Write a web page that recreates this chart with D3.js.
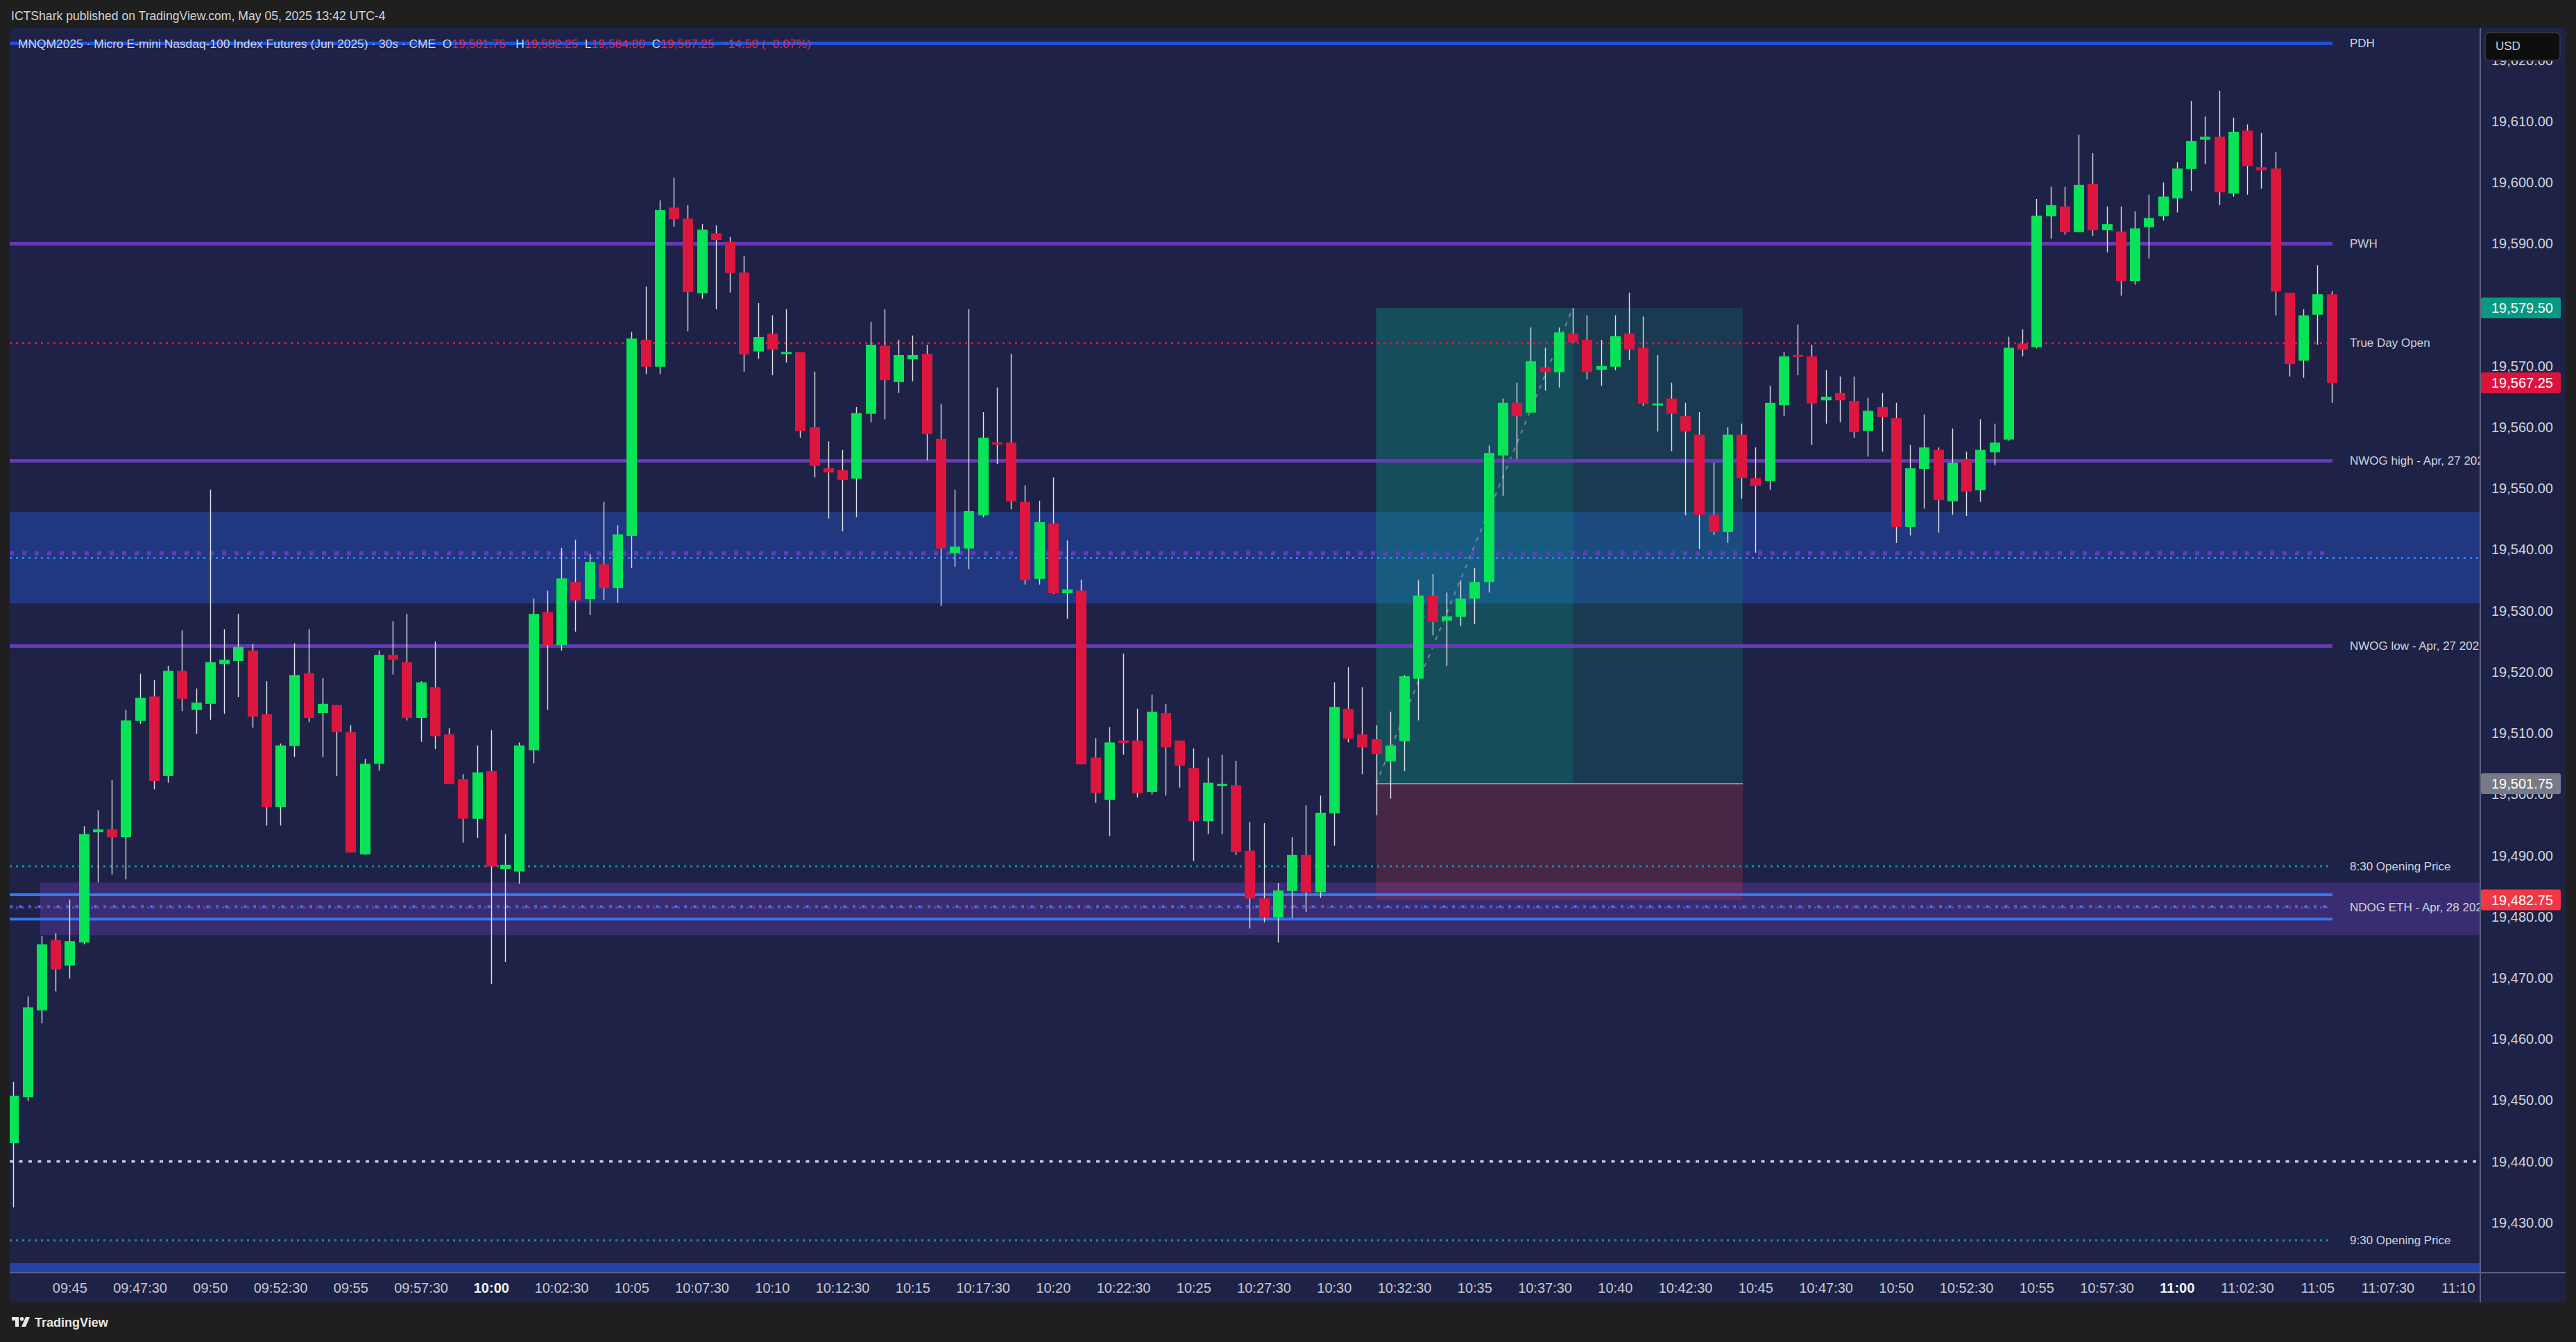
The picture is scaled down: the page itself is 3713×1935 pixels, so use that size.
<!DOCTYPE html>
<html><head><meta charset="utf-8">
<script src="https://cdn.jsdelivr.net/npm/d3@7"></script>
<style>
html,body{margin:0;padding:0;background:#1f1f1f;overflow:hidden;}
svg{display:block;font-family:"Liberation Sans",Arial,sans-serif;}
text{white-space:pre;}
</style></head><body>
<svg id="chart" width="3713" height="1935"></svg>
<script>
// ---------------- DATA ----------------
const symbolTitle = "MNQM2025 · Micro E-mini Nasdaq-100 Index Futures (Jun 2025) · 30s · CME";
const headerText = "ICTShark published on TradingView.com, May 05, 2025 13:42 UTC-4";
const firstBarTime = "09:43:00";
const barSeconds = 30;

const open = [19443.0,19450.5,19464.7,19476.2,19472.0,19475.8,19493.8,19494.3,19493.0,19512.0,
19516.0,19503.0,19520.2,19513.8,19514.8,19521.3,19521.8,19523.5,19513.1,19497.9,
19507.9,19519.8,19513.3,19514.6,19510.2,19490.2,19505.0,19522.8,19521.6,19512.5,
19517.5,19509.8,19502.5,19496.0,19503.8,19487.8,19487.4,19507.2,19529.8,19524.4,
19534.7,19531.9,19537.6,19533.7,19542.2,19574.3,19569.9,19595.9,19594.1,19581.9,
19591.7,19590.3,19585.3,19572.4,19575.3,19572.0,19572.25,19560.0,19553.3,19553.0,
19551.6,19562.2,19573.3,19567.4,19571.1,19572.0,19558.1,19539.4,19540.2,19545.6,
19557.5,19557.5,19547.8,19535.2,19544.3,19532.9,19533.3,19506.0,19499.1,19508.8,
19508.8,19500.4,19513.3,19508.8,19504.3,19495.6,19501.4,19501.5,19490.8,19483.0,
19479.9,19484.2,19490.1,19484.0,19496.9,19514.0,19509.8,19509.0,19505.4,19508.7,
19518.9,19532.5,19528.4,19529.0,19532.0,19534.7,19555.4,19564.0,19562.4,19569.8,
19569.0,19575.3,19574.3,19569.4,19569.9,19575.3,19573.0,19563.7,19564.7,19561.8,
19558.8,19545.7,19542.9,19558.8,19551.7,19551.2,19563.6,19571.8,19571.6,19564.4,
19565.6,19564.3,19559.4,19563.3,19561.5,19543.7,19553.2,19556.3,19547.9,19554.8,
19549.7,19555.9,19558.0,19573.7,19573.1,19594.5,19596.1,19591.9,19599.8,19592.2,
19592.0,19583.9,19592.7,19594.5,19597.4,19602.2,19607.0,19607.5,19598.2,19608.5,
19602.5,19602.3,19582.0,19570.9,19578.4,19581.75];

const high = [19453.0,19467.0,19476.8,19477.3,19482.8,19494.8,19497.4,19502.3,19513.8,19519.7,
19518.7,19521.0,19526.8,19517.3,19549.8,19527.0,19529.5,19524.6,19518.5,19508.3,
19524.7,19527.0,19519.0,19514.6,19511.3,19505.8,19523.5,19528.3,19529.5,19518.5,
19525.0,19510.8,19503.3,19508.0,19510.5,19493.5,19508.5,19532.0,19533.3,19540.3,
19541.6,19539.3,19547.8,19544.0,19575.6,19583.0,19597.1,19600.8,19596.3,19593.2,
19593.0,19591.1,19588.0,19580.3,19578.3,19579.3,19572.25,19569.1,19557.7,19556.3,
19563.3,19577.2,19579.3,19574.3,19575.0,19573.5,19563.8,19549.8,19579.3,19562.5,
19566.5,19572.0,19550.5,19548.0,19551.8,19541.5,19535.1,19509.2,19511.0,19523.0,
19514.0,19516.3,19514.8,19508.8,19507.5,19506.0,19506.5,19505.5,19495.5,19495.3,
19485.5,19493.0,19498.2,19499.8,19518.3,19520.8,19517.5,19511.3,19513.5,19519.5,
19535.0,19536.0,19533.0,19535.0,19537.0,19557.0,19564.7,19567.3,19576.3,19573.0,
19576.3,19579.5,19578.3,19574.3,19578.3,19582.0,19578.1,19571.8,19567.3,19564.0,
19562.5,19554.2,19560.0,19560.6,19556.7,19566.8,19572.3,19576.8,19573.5,19569.3,
19568.3,19568.3,19564.8,19565.6,19564.0,19557.1,19562.1,19556.7,19559.8,19556.0,
19561.3,19560.6,19574.8,19576.0,19597.3,19599.3,19599.3,19607.8,19604.8,19596.1,
19596.1,19595.3,19598.0,19600.0,19603.3,19613.3,19610.8,19615.0,19610.6,19609.5,
19608.1,19605.0,19582.0,19579.3,19586.5,19582.25];

const low = [19432.5,19449.9,19462.6,19467.8,19469.9,19475.5,19485.6,19486.9,19486.1,19511.5,
19500.8,19501.9,19513.6,19509.9,19512.2,19513.2,19515.9,19510.9,19494.9,19494.9,
19506.1,19511.8,19506.1,19503.0,19490.5,19490.1,19503.9,19519.6,19512.1,19508.6,
19507.4,19501.7,19492.1,19492.9,19469.0,19472.6,19485.4,19505.1,19513.8,19523.5,
19526.6,19529.3,19531.8,19531.3,19537.0,19568.7,19568.7,19592.8,19575.7,19581.0,
19579.3,19582.0,19569.1,19571.2,19568.5,19570.6,19558.3,19551.8,19545.1,19543.0,
19545.3,19560.8,19561.3,19565.6,19567.5,19554.6,19530.8,19537.2,19536.8,19545.3,
19554.0,19546.6,19534.3,19534.3,19532.8,19528.7,19504.9,19498.6,19493.2,19506.5,
19499.5,19500.0,19499.8,19501.1,19489.1,19493.5,19493.5,19490.1,19478.1,19479.1,
19475.8,19479.8,19480.8,19483.1,19491.6,19508.5,19503.3,19496.6,19499.3,19503.8,
19512.1,19526.0,19521.0,19527.5,19527.8,19533.0,19548.8,19554.8,19562.4,19566.0,
19566.5,19573.8,19567.8,19566.8,19569.3,19571.0,19563.5,19559.3,19556.1,19545.6,
19540.1,19542.4,19541.1,19548.3,19539.5,19549.8,19561.8,19568.5,19557.1,19560.6,
19560.8,19558.3,19555.2,19556.0,19541.1,19542.3,19546.7,19542.8,19545.7,19545.5,
19547.8,19553.8,19557.8,19571.6,19572.9,19590.8,19591.5,19591.9,19591.3,19588.6,
19581.5,19583.3,19587.6,19593.8,19595.1,19598.6,19603.0,19596.3,19597.7,19598.0,
19599.0,19578.3,19568.3,19568.1,19573.5,19564.0];

const close = [19450.75,19465.2,19475.5,19471.4,19476.0,19493.5,19494.3,19493.0,19512.1,19515.8,
19502.2,19520.2,19515.6,19515.0,19521.6,19522.0,19524.1,19512.7,19497.9,19508.0,
19519.5,19512.5,19514.8,19510.2,19490.5,19505.0,19522.8,19522.0,19512.5,19518.3,
19509.5,19501.7,19496.0,19503.6,19488.2,19488.5,19508.0,19529.5,19524.4,19535.3,
19531.7,19538.0,19533.7,19542.5,19574.5,19569.9,19595.5,19594.0,19582.1,19592.3,
19590.6,19585.2,19571.9,19574.75,19572.7,19572.25,19559.4,19553.7,19552.6,19551.4,
19562.3,19573.5,19567.7,19571.8,19571.8,19558.9,19540.2,19540.5,19546.3,19558.3,
19557.2,19547.9,19535.0,19544.5,19532.9,19533.5,19504.9,19500.2,19508.5,19508.4,
19500.2,19513.5,19507.7,19504.7,19495.6,19501.9,19501.7,19490.6,19483.0,19479.9,
19484.3,19490.1,19484.0,19497.0,19514.3,19509.1,19507.7,19506.6,19508.0,19519.3,
19532.5,19528.2,19529.1,19532.0,19534.7,19555.8,19564.0,19561.8,19570.8,19569.0,
19575.5,19573.9,19569.0,19570.0,19574.9,19572.7,19563.9,19563.75,19562.2,19559.3,
19545.7,19542.9,19558.8,19551.7,19550.4,19564.0,19571.6,19571.5,19563.9,19565.0,
19564.4,19559.2,19562.7,19561.7,19543.7,19553.3,19556.7,19548.1,19554.2,19549.5,
19556.3,19557.5,19573.0,19572.7,19594.6,19596.3,19591.9,19599.6,19592.2,19593.2,
19583.9,19592.5,19594.2,19597.7,19602.3,19606.8,19607.5,19598.4,19608.3,19602.7,
19602.0,19582.2,19570.3,19578.3,19581.75,19567.25];

const priceTicks = [19430,19440,19450,19460,19470,19480,19490,19500,19510,19520,19530,19540,19550,19560,19570,19580,19590,19600,19610,19620];
const timeTickLabels = ["09:45","09:47:30","09:50","09:52:30","09:55","09:57:30","10:00","10:02:30","10:05","10:07:30","10:10","10:12:30","10:15","10:17:30","10:20","10:22:30","10:25","10:27:30","10:30","10:32:30","10:35","10:37:30","10:40","10:42:30","10:45","10:47:30","10:50","10:52:30","10:55","10:57:30","11:00","11:02:30","11:05","11:07:30","11:10"];
const boldTimeLabels = ["10:00","11:00"];

// labelled key levels
const levelLabels = ["PDH","PWH","True Day Open","NWOG high - Apr, 27 2025","NWOG low - Apr, 27 2025","8:30 Opening Price","NDOG ETH - Apr, 28 2025","9:30 Opening Price"];
const levelPrices = [19622.75,19590.0,19573.75,19554.5,19524.25,19488.25,19481.5,19427.1];

// unlabelled levels and zones
const nwogMid = 19539.4;
const gapZone = [19531.2,19546.2];
const gapMid = 19538.65;
const ndogZone = [19477.0,19485.6];
const ndogEdges = [19483.6,19479.6];
const ndogMidBlue = 19481.65;
const roundLevel = 19440.0;
const lowerZoneTop = 19423.4;

// long position
const entryPrice = 19501.75, targetPrice = 19579.5, stopPrice = 19482.75;
const entryBar = 97, targetHitBar = 111, positionEndBar = 123;
const ndogStartBar = 2;

// price axis tags
const tagPrices = [19579.5,19567.25,19501.75,19482.75];
const tagKinds = ["target","last","entry","stop"];

// ---------------- STYLES / LAYOUT ----------------
const W=3713,H=1935, L=14, R=3575, T=40, B=1835, PR=3698, PB=1878;
const lineEnd = 3362, labelX = 3387;
const BG="#1e2246", UP="#08e358", DOWN="#dc163e", WICK="#dfe1ea";
const levelStyles = [
  {color:"#1f51d4", width:5, dash:null},
  {color:"#673ab7", width:5, dash:null},
  {color:"#dc143c", width:3, dash:"3,6"},
  {color:"#673ab7", width:5, dash:null},
  {color:"#673ab7", width:5, dash:null},
  {color:"#0097a7", width:3, dash:"3,6"},
  {color:"#6a3fc0", width:3, dash:"3,6"},
  {color:"#0097a7", width:3, dash:"3,6"}
];
const tagColors = {target:"#089981", last:"#dc143c", entry:"#787b86", stop:"#f23645"};

// ---------------- SCALES ----------------
const parseT = d3.timeParse("%H:%M:%S");
const t0 = parseT(firstBarTime);
const times = open.map((_, i) => new Date(t0.getTime() + i*barSeconds*1000));
const secPerPx = 30/20.25;
const xScale = d3.scaleTime()
  .domain([new Date(t0.getTime() - (19.3-L)*secPerPx*1000), new Date(t0.getTime() + (R-19.3)*secPerPx*1000)])
  .range([L, R]);
const yScale = d3.scaleLinear().domain([19421.83, 19625.30]).range([B, T]);
const step = xScale(times[1]) - xScale(times[0]);
const bodyW = Math.round(step*0.74);

const svg = d3.select("#chart");
svg.append("rect").attr("width",W).attr("height",H).attr("fill","#1f1f1f");
svg.append("rect").attr("x",L).attr("y",T).attr("width",PR-L).attr("height",PB-T).attr("fill",BG);

const defs = svg.append("defs");
defs.append("clipPath").attr("id","plotClip").append("rect").attr("x",L).attr("y",T).attr("width",R-L).attr("height",B-T);

const plot = svg.append("g").attr("clip-path","url(#plotClip)");

// zones
plot.append("rect").attr("x",L).attr("width",R-L)
  .attr("y",yScale(gapZone[1])).attr("height",yScale(gapZone[0])-yScale(gapZone[1])).attr("fill","#213780");
plot.append("rect").attr("x",xScale(times[ndogStartBar])-2).attr("width",R-xScale(times[ndogStartBar])+2)
  .attr("y",yScale(ndogZone[1])).attr("height",yScale(ndogZone[0])-yScale(ndogZone[1])).attr("fill","#3a2c70");
plot.append("rect").attr("x",L).attr("width",R-L)
  .attr("y",yScale(lowerZoneTop)).attr("height",B-yScale(lowerZoneTop)).attr("fill","#2443a6");

// position boxes
const xE = xScale(times[entryBar]), xHit = xScale(times[targetHitBar]), xEnd = xScale(times[positionEndBar])+2;
plot.append("rect").attr("x",xE).attr("width",xEnd-xE).attr("y",yScale(targetPrice)).attr("height",yScale(entryPrice)-yScale(targetPrice)).attr("fill","rgba(8,153,129,0.2)");
plot.append("rect").attr("x",xE).attr("width",xHit-xE).attr("y",yScale(targetPrice)).attr("height",yScale(entryPrice)-yScale(targetPrice)).attr("fill","rgba(8,153,129,0.2)");
plot.append("rect").attr("x",xE).attr("width",xEnd-xE).attr("y",yScale(entryPrice)).attr("height",yScale(stopPrice)-yScale(entryPrice)).attr("fill","rgba(242,54,69,0.2)");
plot.append("line").attr("x1",xE).attr("x2",xEnd).attr("y1",yScale(entryPrice)).attr("y2",yScale(entryPrice)).attr("stroke","#8a8d98").attr("stroke-width",2);
plot.append("line").attr("x1",xE).attr("y1",yScale(entryPrice)).attr("x2",xHit).attr("y2",yScale(targetPrice))
  .attr("stroke","#7e8294").attr("stroke-width",2).attr("stroke-dasharray","6,8");

// unlabeled lines
function hline(p, x1, x2, color, w, dash){
  const l = plot.append("line").attr("x1",x1).attr("x2",x2).attr("y1",yScale(p)).attr("y2",yScale(p))
    .attr("stroke",color).attr("stroke-width",w);
  if(dash) l.attr("stroke-dasharray",dash);
  return l;
}
hline(nwogMid, L, lineEnd, "#5f3dbd", 6, "6,12");
hline(gapMid, L, R, "#2f7cf6", 3, "3,6");
hline(ndogEdges[0], L, lineEnd, "#3177f2", 4, null);
hline(ndogEdges[1], L, lineEnd, "#3177f2", 4, null);
hline(ndogMidBlue, L, lineEnd, "#2f7cf6", 4, "4,9.5");
hline(roundLevel, L, R-6, "#c3c7dc", 3.5, "5,8.5");

// labelled levels
levelPrices.forEach((p,i)=>{
  const s = levelStyles[i];
  hline(p, L, lineEnd, s.color, s.width, s.dash);
});
plot.selectAll("text.lvl").data(levelLabels).join("text").attr("class","lvl")
  .attr("x",labelX).attr("y",(d,i)=>yScale(levelPrices[i])).attr("dominant-baseline","central")
  .attr("fill","#d1d4dc").attr("font-size",17).text(d=>d);

// candles
const bars = times.map((t,i)=>({t, o:open[i], h:high[i], l:low[i], c:close[i]}));
plot.selectAll("line.wick").data(bars).join("line").attr("class","wick")
  .attr("x1",d=>Math.round(xScale(d.t))+0.5).attr("x2",d=>Math.round(xScale(d.t))+0.5)
  .attr("y1",d=>yScale(d.h)).attr("y2",d=>yScale(d.l)).attr("stroke",WICK).attr("stroke-width",1.4);
plot.selectAll("rect.body").data(bars).join("rect").attr("class","body")
  .attr("x",d=>Math.round(xScale(d.t))+0.5-bodyW/2).attr("width",bodyW)
  .attr("y",d=>{const a=yScale(Math.max(d.o,d.c)), b=yScale(Math.min(d.o,d.c)); return (b-a<3)?(a+b)/2-1.5:a;})
  .attr("height",d=>Math.max(3, yScale(Math.min(d.o,d.c))-yScale(Math.max(d.o,d.c))))
  .attr("fill",d=>d.c>=d.o?UP:DOWN);

// legend
const last = open.length-1;
const fmt = d3.format(",.2f");
const chg = close[last]-close[last-1];
const leg = svg.append("text").attr("x",26).attr("y",63).attr("dominant-baseline","central").attr("font-size",17.4).attr("fill","#d1d4dc");
const VAL = "#e0283f";
leg.append("tspan").text(symbolTitle + "  O");
leg.append("tspan").attr("fill",VAL).text(fmt(open[last]));
leg.append("tspan").text("   H");
leg.append("tspan").attr("fill",VAL).text(fmt(high[last]));
leg.append("tspan").text("  L");
leg.append("tspan").attr("fill",VAL).text(fmt(low[last]));
leg.append("tspan").text("  C");
leg.append("tspan").attr("fill",VAL).text(fmt(close[last]) + "  " + (chg<0?"\u2212":"+") + d3.format(".2f")(Math.abs(chg)) + " (" + (chg<0?"\u2212":"+") + d3.format(".2f")(Math.abs(chg)/close[last-1]*100) + "%)");

// axes frame
svg.append("line").attr("x1",R).attr("x2",R).attr("y1",T).attr("y2",PB).attr("stroke","#5d6180").attr("stroke-width",2);
svg.append("line").attr("x1",L).attr("x2",PR).attr("y1",B).attr("y2",B).attr("stroke","#5d6180").attr("stroke-width",2);

// price axis
const yAxis = d3.axisRight(yScale).tickValues(priceTicks).tickFormat(fmt).tickSize(0).tickPadding(16);
const ya = svg.append("g").attr("transform",`translate(${R},0)`).call(yAxis);
ya.select(".domain").remove();
ya.selectAll("text").attr("font-size",20).attr("fill","#d1d4dc").attr("font-family","Liberation Sans, Arial, sans-serif");

// time axis
const tickTimes = timeTickLabels.map(s => parseT(s.length===5 ? s+":00" : s));
const xAxis = d3.axisBottom(xScale).tickValues(tickTimes).tickFormat((d,i)=>timeTickLabels[i]).tickSize(0).tickPadding(15);
const xa = svg.append("g").attr("transform",`translate(0,${B})`).call(xAxis);
xa.select(".domain").remove();
xa.selectAll("text").attr("font-size",20).attr("font-family","Liberation Sans, Arial, sans-serif")
  .attr("font-weight",(d,i)=>boldTimeLabels.includes(timeTickLabels[i])?"bold":"normal")
  .attr("fill",(d,i)=>boldTimeLabels.includes(timeTickLabels[i])?"#f0f2f8":"#c3c6d0");

// price tags
const tags = svg.append("g");
tagPrices.forEach((p,i)=>{
  const y = yScale(p);
  tags.append("rect").attr("x",R+1).attr("y",y-15).attr("width",3691-R-1).attr("height",30).attr("rx",3).attr("fill",tagColors[tagKinds[i]]);
  tags.append("text").attr("x",3591).attr("y",y).attr("dominant-baseline","central").attr("font-size",20).attr("fill","#ffffff").text(fmt(p));
});

// USD box
svg.append("rect").attr("x",3582).attr("y",47).attr("width",108).attr("height",40).attr("rx",6).attr("fill","#0e0e0e").attr("stroke","#3a3a3a").attr("stroke-width",1.5);
svg.append("text").attr("x",3597).attr("y",66).attr("dominant-baseline","central").attr("font-size",17).attr("fill","#d1d4dc").text("USD");

// header
svg.append("text").attr("x",16).attr("y",23).attr("dominant-baseline","central").attr("font-size",17.6).attr("fill","#d1d4dc").text(headerText);

// footer logo
const logo = svg.append("g").attr("transform","translate(17,1899)").attr("fill","#e6e6e6");
logo.append("path").attr("d","M0,0 H10 V14 H5 V5 H0 Z");
logo.append("circle").attr("cx",14.5).attr("cy",2.8).attr("r",2.8);
logo.append("path").attr("d","M20,0 H26 L20,14 H14 Z");
svg.append("text").attr("x",50).attr("y",1907).attr("dominant-baseline","central").attr("font-size",18).attr("font-weight","bold").attr("fill","#e6e6e6").text("TradingView");
</script>
</body></html>
